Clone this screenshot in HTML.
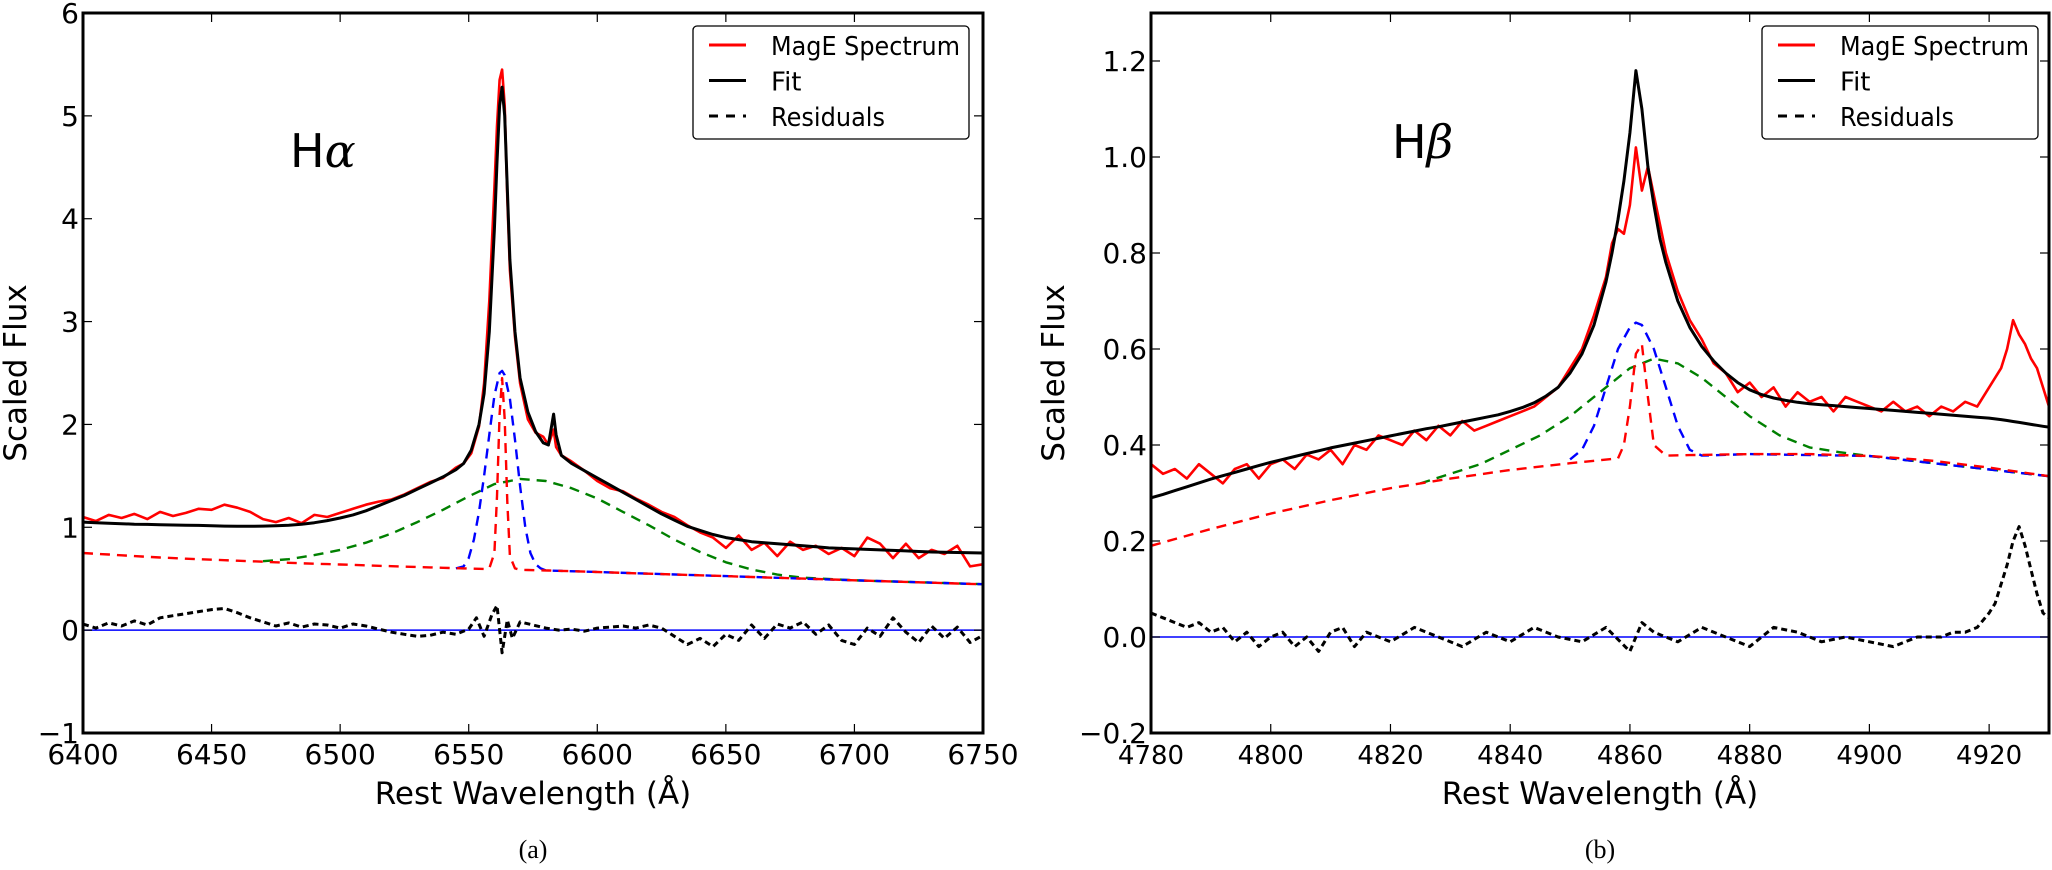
<!DOCTYPE html>
<html><head><meta charset="utf-8"><style>
html,body{margin:0;padding:0;background:#fff;}
svg{display:block;font-family:"DejaVu Sans","Liberation Sans",sans-serif;}
</style></head><body>
<svg id="fig" width="2052" height="870" viewBox="0 0 2052 870" xmlns="http://www.w3.org/2000/svg"></svg>
<script>
// ---------- Panel (a) H-alpha data ----------
const haWave = [6400,6405,6410,6415,6420,6425,6430,6435,6440,6445,6450,6455,6460,6465,6470,6475,6480,6485,6490,6495,6500,6505,6510,6515,6520,6525,6530,6535,6540,6545,6548,6551,6554,6556,6558,6560,6561,6562,6563,6564,6565,6566,6568,6570,6573,6576,6579,6581,6583,6584,6586,6590,6595,6600,6605,6610,6615,6620,6625,6630,6635,6640,6645,6650,6655,6660,6665,6670,6675,6680,6685,6690,6695,6700,6705,6710,6715,6720,6725,6730,6735,6740,6745,6750];
const haSpec = [1.10,1.06,1.12,1.09,1.13,1.08,1.15,1.11,1.14,1.18,1.17,1.22,1.19,1.15,1.08,1.05,1.09,1.04,1.12,1.10,1.14,1.18,1.22,1.25,1.27,1.32,1.38,1.44,1.48,1.58,1.62,1.72,1.98,2.40,3.20,4.30,4.90,5.35,5.45,5.10,4.20,3.50,2.85,2.40,2.05,1.92,1.88,1.80,1.95,1.78,1.70,1.64,1.55,1.45,1.38,1.35,1.28,1.22,1.15,1.10,1.02,0.95,0.90,0.80,0.92,0.78,0.85,0.72,0.86,0.78,0.82,0.74,0.80,0.72,0.90,0.84,0.70,0.84,0.70,0.78,0.74,0.82,0.62,0.64];
const haFit = [1.05,1.045,1.04,1.035,1.03,1.028,1.025,1.022,1.02,1.018,1.015,1.012,1.01,1.01,1.012,1.015,1.02,1.03,1.045,1.065,1.09,1.12,1.16,1.21,1.26,1.31,1.37,1.43,1.49,1.56,1.62,1.75,2.00,2.30,2.90,3.90,4.55,5.10,5.28,5.00,4.30,3.60,2.90,2.45,2.12,1.93,1.82,1.80,2.10,1.90,1.70,1.62,1.55,1.48,1.41,1.34,1.27,1.20,1.13,1.07,1.01,0.97,0.93,0.90,0.88,0.86,0.85,0.84,0.83,0.82,0.81,0.80,0.795,0.79,0.785,0.78,0.775,0.77,0.765,0.76,0.757,0.755,0.752,0.75];
const haCont = [0.75,0.742,0.735,0.728,0.72,0.713,0.706,0.70,0.695,0.69,0.685,0.68,0.675,0.67,0.665,0.66,0.655,0.65,0.646,0.642,0.638,0.634,0.63,0.626,0.622,0.618,0.614,0.61,0.606,0.602,0.60,0.598,0.596,0.595,0.594,0.593,0.592,0.592,0.591,0.59,0.59,0.589,0.588,0.587,0.585,0.583,0.581,0.58,0.578,0.577,0.576,0.573,0.569,0.565,0.561,0.557,0.553,0.549,0.545,0.541,0.537,0.533,0.529,0.525,0.521,0.517,0.513,0.509,0.505,0.501,0.497,0.493,0.489,0.485,0.481,0.477,0.473,0.469,0.465,0.461,0.457,0.453,0.45,0.447];
const haNarrow = [0.75,0.742,0.735,0.728,0.72,0.713,0.706,0.70,0.695,0.69,0.685,0.68,0.675,0.67,0.665,0.66,0.655,0.65,0.646,0.642,0.638,0.634,0.63,0.626,0.622,0.618,0.614,0.61,0.606,0.602,0.60,0.598,0.596,0.595,0.60,0.75,1.30,2.10,2.45,2.05,1.25,0.72,0.60,0.587,0.585,0.583,0.581,0.58,0.578,0.577,0.576,0.573,0.569,0.565,0.561,0.557,0.553,0.549,0.545,0.541,0.537,0.533,0.529,0.525,0.521,0.517,0.513,0.509,0.505,0.501,0.497,0.493,0.489,0.485,0.481,0.477,0.473,0.469,0.465,0.461,0.457,0.453,0.45,0.447];
const haBlueW = [6545,6548,6550,6552,6554,6556,6558,6560,6562,6563,6564,6566,6568,6570,6572,6574,6576,6578,6580,6600,6650,6700,6750];
const haBlue = [0.60,0.62,0.70,0.88,1.15,1.50,1.90,2.28,2.50,2.52,2.48,2.25,1.85,1.40,1.00,0.75,0.64,0.60,0.58,0.565,0.525,0.485,0.447];
const haGreenW = [6470,6480,6490,6500,6510,6520,6530,6540,6550,6560,6570,6580,6590,6600,6610,6620,6630,6640,6650,6660,6670,6680,6700,6750];
const haGreen = [0.67,0.69,0.73,0.78,0.85,0.94,1.05,1.17,1.30,1.42,1.47,1.45,1.38,1.28,1.15,1.02,0.88,0.76,0.66,0.59,0.54,0.51,0.485,0.447];
const haResW = [6400,6405,6410,6415,6420,6425,6430,6435,6440,6445,6450,6455,6460,6465,6470,6475,6480,6485,6490,6495,6500,6505,6510,6515,6520,6525,6530,6535,6540,6545,6550,6553,6556,6559,6561,6563,6565,6567,6570,6575,6580,6585,6590,6595,6600,6605,6610,6615,6620,6625,6630,6635,6640,6645,6650,6655,6660,6665,6670,6675,6680,6685,6690,6695,6700,6705,6710,6715,6720,6725,6730,6735,6740,6745,6750];
const haRes = [0.06,0.02,0.07,0.04,0.09,0.05,0.12,0.14,0.16,0.18,0.20,0.21,0.17,0.12,0.08,0.04,0.07,0.03,0.06,0.05,0.02,0.06,0.04,0.01,-0.02,-0.04,-0.06,-0.05,-0.02,-0.04,0.01,0.12,-0.06,0.15,0.24,-0.22,0.10,-0.08,0.08,0.05,0.02,0.00,0.01,-0.01,0.02,0.03,0.04,0.02,0.05,0.02,-0.06,-0.14,-0.08,-0.16,-0.04,-0.10,0.05,-0.08,0.06,0.02,0.08,-0.04,0.05,-0.10,-0.14,0.02,-0.06,0.12,-0.02,-0.12,0.04,-0.08,0.03,-0.12,-0.05];
const haXTicks = [6400,6450,6500,6550,6600,6650,6700,6750];
const haYTicks = [-1,0,1,2,3,4,5,6];
const haYLabels = ["\u22121","0","1","2","3","4","5","6"];

// ---------- Panel (b) H-beta data ----------
const hbWave = [4780,4782,4784,4786,4788,4790,4792,4794,4796,4798,4800,4802,4804,4806,4808,4810,4812,4814,4816,4818,4820,4822,4824,4826,4828,4830,4832,4834,4836,4838,4840,4842,4844,4846,4848,4850,4852,4854,4856,4857,4858,4859,4860,4861,4862,4863,4864,4865,4866,4868,4870,4872,4874,4876,4878,4880,4882,4884,4886,4888,4890,4892,4894,4896,4898,4900,4902,4904,4906,4908,4910,4912,4914,4916,4918,4920,4922,4923,4924,4925,4926,4927,4928,4929,4930];
const hbSpec = [0.36,0.34,0.35,0.33,0.36,0.34,0.32,0.35,0.36,0.33,0.36,0.37,0.35,0.38,0.37,0.39,0.36,0.40,0.39,0.42,0.41,0.40,0.43,0.41,0.44,0.42,0.45,0.43,0.44,0.45,0.46,0.47,0.48,0.50,0.52,0.56,0.60,0.67,0.75,0.82,0.85,0.84,0.90,1.02,0.93,0.98,0.92,0.86,0.80,0.72,0.66,0.62,0.57,0.55,0.51,0.53,0.50,0.52,0.48,0.51,0.49,0.50,0.47,0.50,0.49,0.48,0.47,0.49,0.47,0.48,0.46,0.48,0.47,0.49,0.48,0.52,0.56,0.60,0.66,0.63,0.61,0.58,0.56,0.52,0.48];
const hbFit = [0.29,0.297,0.305,0.313,0.321,0.329,0.336,0.343,0.350,0.357,0.364,0.370,0.376,0.382,0.388,0.394,0.399,0.404,0.409,0.414,0.419,0.424,0.429,0.434,0.438,0.443,0.448,0.453,0.458,0.463,0.470,0.478,0.488,0.502,0.52,0.55,0.59,0.65,0.74,0.80,0.87,0.95,1.05,1.18,1.10,0.98,0.90,0.83,0.78,0.70,0.645,0.605,0.575,0.55,0.53,0.515,0.505,0.498,0.493,0.489,0.486,0.484,0.482,0.480,0.478,0.476,0.474,0.472,0.470,0.468,0.466,0.464,0.462,0.460,0.458,0.456,0.453,0.451,0.449,0.447,0.445,0.443,0.441,0.439,0.437];
const hbContW = [4780,4790,4800,4810,4820,4830,4840,4850,4858,4859,4860,4861,4862,4863,4864,4866,4870,4880,4890,4900,4910,4920,4930];
const hbCont = [0.19,0.225,0.257,0.285,0.31,0.33,0.348,0.362,0.372,0.40,0.48,0.59,0.61,0.50,0.40,0.378,0.379,0.381,0.381,0.377,0.368,0.353,0.335];
const hbBlueW = [4850,4852,4854,4856,4858,4860,4861,4862,4864,4866,4868,4870,4872,4880,4900,4930];
const hbBlue = [0.37,0.39,0.44,0.52,0.60,0.645,0.655,0.650,0.60,0.52,0.44,0.39,0.378,0.381,0.377,0.335];
const hbGreenW = [4825,4830,4835,4840,4845,4850,4855,4860,4864,4868,4872,4876,4880,4885,4890,4895,4900,4930];
const hbGreen = [0.32,0.34,0.36,0.39,0.42,0.46,0.51,0.56,0.58,0.57,0.54,0.50,0.46,0.42,0.395,0.385,0.377,0.335];
const hbResW = [4780,4782,4784,4786,4788,4790,4792,4794,4796,4798,4800,4802,4804,4806,4808,4810,4812,4814,4816,4818,4820,4824,4828,4832,4836,4840,4844,4848,4852,4856,4860,4862,4864,4868,4872,4876,4880,4884,4888,4892,4896,4900,4904,4908,4912,4914,4916,4918,4920,4921,4922,4923,4924,4925,4926,4927,4928,4929,4930];
const hbRes = [0.05,0.04,0.03,0.02,0.03,0.01,0.02,-0.01,0.01,-0.02,0.00,0.01,-0.02,0.00,-0.03,0.01,0.02,-0.02,0.01,0.00,-0.01,0.02,0.00,-0.02,0.01,-0.01,0.02,0.00,-0.01,0.02,-0.03,0.03,0.01,-0.01,0.02,0.00,-0.02,0.02,0.01,-0.01,0.00,-0.01,-0.02,0.00,0.00,0.01,0.01,0.02,0.05,0.07,0.11,0.15,0.20,0.23,0.19,0.14,0.09,0.05,0.04];
const hbXTicks = [4780,4800,4820,4840,4860,4880,4900,4920];
const hbYTicks = [-0.2,0.0,0.2,0.4,0.6,0.8,1.0,1.2];
const hbYLabels = ["\u22120.2","0.0","0.2","0.4","0.6","0.8","1.0","1.2"];

const NS = "http://www.w3.org/2000/svg";
const svg = document.getElementById('fig');
function mk(tag, attrs, parent){
  const e = document.createElementNS(NS, tag);
  for (const k in attrs) e.setAttribute(k, attrs[k]);
  (parent||svg).appendChild(e);
  return e;
}
function panel(o){
  const g = mk('g', {});
  
  
  const sx = v => o.x0 + (v - o.xmin) / (o.xmax - o.xmin) * (o.x1 - o.x0);
  const sy = v => o.y1 - (v - o.ymin) / (o.ymax - o.ymin) * (o.y1 - o.y0);
  const defs = mk('defs', {}, g);
  const cp = mk('clipPath', {id: o.name + '-clip'}, defs);
  mk('rect', {x:o.x0, y:o.y0, width:o.x1-o.x0, height:o.y1-o.y0}, cp);
  const plot = mk('g', {'clip-path':'url(#' + o.name + '-clip)'}, g);
  function line(xs, ys, stroke, w, dash, nm){
    let d = '';
    for (let i = 0; i < xs.length; i++) d += (i ? 'L' : 'M') + sx(xs[i]).toFixed(1) + ',' + sy(ys[i]).toFixed(1);
    const p = mk('path', {d:d, fill:'none', stroke:stroke, 'stroke-width':w, 'stroke-linejoin':'round'}, plot);
    if (dash) p.setAttribute('stroke-dasharray', dash);
    
    
  }
  const z = mk('line', {x1:o.x0, x2:o.x1, y1:sy(0), y2:sy(0), stroke:'#0000ff', 'stroke-width':1.5}, plot);
  
  
  line(o.greenW, o.green, '#008000', 2.4, '10,7', 'broad-component');
  line(o.blueW, o.blue, '#0000ff', 2.4, '10,7', 'intermediate-component');
  line(o.narrowW, o.narrow, '#ff0000', 2.4, '10,7', 'narrow-component-continuum');
  line(o.wave, o.spec, '#ff0000', 2.6, null, 'mage-spectrum');
  line(o.wave, o.fit, '#000000', 3, null, 'fit-line');
  line(o.resW, o.res, '#000000', 3, '6,4', 'residuals');
  const fr = mk('rect', {x:o.x0, y:o.y0, width:o.x1-o.x0, height:o.y1-o.y0, fill:'none', stroke:'#000', 'stroke-width':3}, g);
  
  
  o.xticks.forEach(t => {
    const x = sx(t);
    mk('line', {x1:x, x2:x, y1:o.y1, y2:o.y1-9, stroke:'#000', 'stroke-width':1.2}, g);
    mk('line', {x1:x, x2:x, y1:o.y0, y2:o.y0+9, stroke:'#000', 'stroke-width':1.2}, g);
    const tx = mk('text', {x:x, y:o.y1+31, 'font-size':o.xfs, 'text-anchor':'middle'}, g);
    tx.textContent = t;
    
    
  });
  o.yticks.forEach((t, i) => {
    const y = sy(t);
    mk('line', {x1:o.x0, x2:o.x0+9, y1:y, y2:y, stroke:'#000', 'stroke-width':1.2}, g);
    mk('line', {x1:o.x1, x2:o.x1-9, y1:y, y2:y, stroke:'#000', 'stroke-width':1.2}, g);
    const tx = mk('text', {x:o.x0-4, y:y+10, 'font-size':28, 'text-anchor':'end'}, g);
    tx.textContent = o.ylabels[i];
    
    
  });
  const xl = mk('text', {x:(o.x0+o.x1)/2, y:804, 'font-size':31, 'text-anchor':'middle'}, g);
  xl.textContent = 'Rest Wavelength (\u00C5)';
  
  
  const yl = mk('text', {x:o.ylx, y:373, 'font-size':31, 'text-anchor':'middle', transform:'rotate(-90 ' + o.ylx + ' 373)'}, g);
  yl.textContent = 'Scaled Flux';
  
  
  const cap = mk('text', {x:(o.x0+o.x1)/2, y:858, 'font-size':26, 'text-anchor':'middle', 'font-family':'Liberation Serif, serif'}, g);
  cap.textContent = o.caption;
  
  
  const ll = mk('text', {x:o.lblx, y:o.lbly, 'font-size':46}, g);
  
  
  ll.appendChild(document.createTextNode('H'));
  const gr = mk('tspan', {'font-family':'DejaVu Serif, Liberation Serif, serif', 'font-style':'italic'}, ll);
  gr.textContent = o.greek;
  const lg = mk('g', {}, g);
  
  
  mk('rect', {x:o.lgx, y:26, width:276, height:113, rx:4, fill:'#fff', stroke:'#000', 'stroke-width':1.3}, lg);
  const ents = [['MagE Spectrum','#ff0000',null,189],['Fit','#000',null,0],['Residuals','#000','9,8',114]];
  ents.forEach((e, i) => {
    const y = 45 + i*35.5;
    const ent = mk('g', {}, lg);
    
    
    const l = mk('line', {x1:o.lgx+16, x2:o.lgx+53, y1:y, y2:y, stroke:e[1], 'stroke-width':3}, ent);
    if (e[2]) l.setAttribute('stroke-dasharray', e[2]);
    const t = mk('text', {x:o.lgx+78, y:y+10, 'font-size':26}, ent);
    if (e[3]) { t.setAttribute('textLength', e[3]); t.setAttribute('lengthAdjust', 'spacingAndGlyphs'); }
    t.textContent = e[0];
  });
}
panel({name:'halpha-panel', x0:83, x1:983, y0:13, y1:733, xmin:6400, xmax:6750, ymin:-1, ymax:6,
  wave:haWave, spec:haSpec, fit:haFit, narrowW:haWave, narrow:haNarrow, blueW:haBlueW, blue:haBlue,
  greenW:haGreenW, green:haGreen, resW:haResW, res:haRes, xticks:haXTicks, yticks:haYTicks, ylabels:haYLabels,
  xfs:28, ylx:26, caption:'(a)', lblx:290, lbly:167, greek:'\u03B1', lgx:693});
panel({name:'hbeta-panel', x0:1151, x1:2049, y0:13, y1:733, xmin:4780, xmax:4930, ymin:-0.2, ymax:1.3,
  wave:hbWave, spec:hbSpec, fit:hbFit, narrowW:hbContW, narrow:hbCont, blueW:hbBlueW, blue:hbBlue,
  greenW:hbGreenW, green:hbGreen, resW:hbResW, res:hbRes, xticks:hbXTicks, yticks:hbYTicks, ylabels:hbYLabels,
  xfs:26, ylx:1064, caption:'(b)', lblx:1392, lbly:158, greek:'\u03B2', lgx:1762});
</script>
</body></html>
